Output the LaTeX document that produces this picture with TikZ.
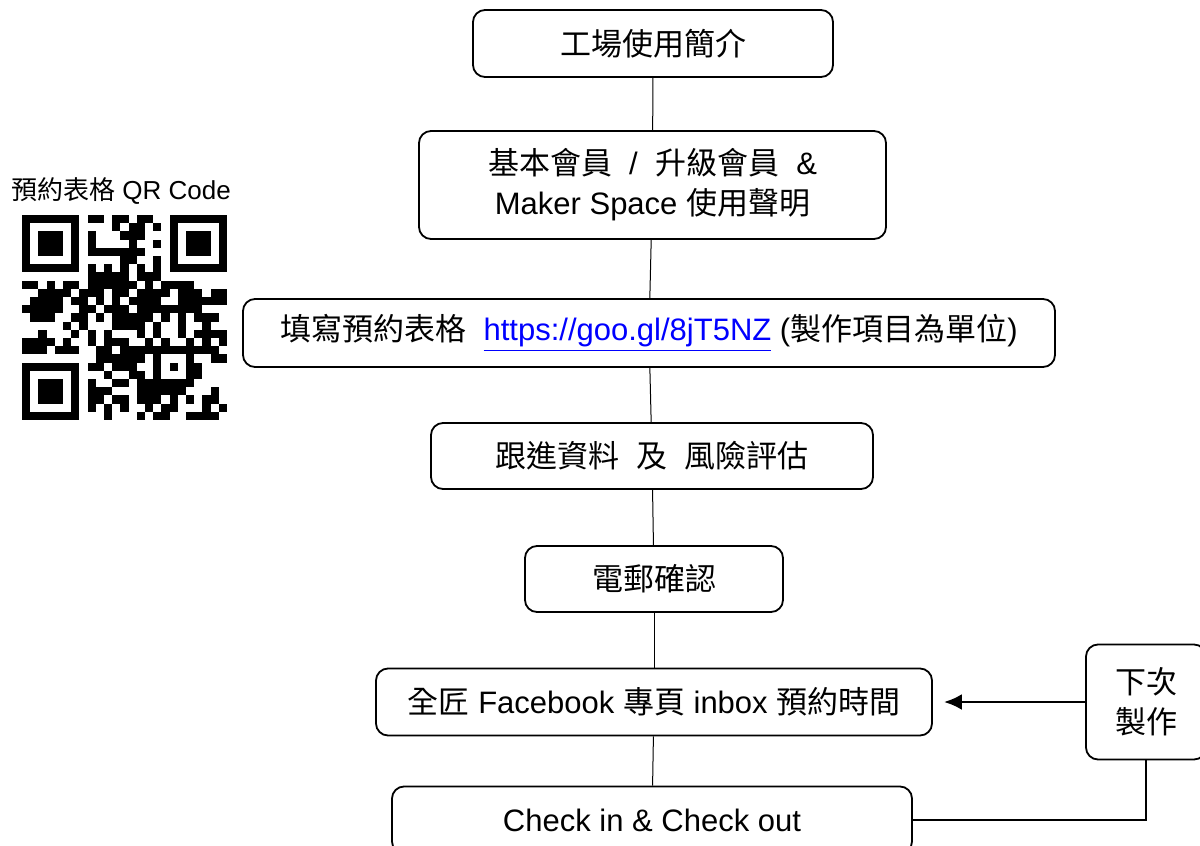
\documentclass[tikz,border=0pt]{standalone}
\usepackage{fontspec}
\usetikzlibrary{arrows.meta}
\setmainfont{Liberation Sans}
\newfontfamily\cjk{Noto Sans CJK TC}
\newcommand{\zh}[1]{{\cjk #1}}
\newcommand{\qrm}{8.2}
\begin{document}
\begin{tikzpicture}[x=0.5pt,y=-0.5pt,>={Latex[length=9pt,width=8pt]},
  box/.style={draw, line width=0.9pt, rounded corners=6pt, fill=white, inner sep=0pt,
    align=center, font=\fontsize{15.5}{20}\selectfont},
  link/.style={line width=0.5pt}]
  \useasboundingbox (0,0) rectangle (1200,846);

  \node[box, minimum width=180pt, minimum height=33.5pt] (intro)    at (653,43.5) {\zh{工場使用簡介}};
  \node[box, minimum width=233.5pt, minimum height=54pt] (member)   at (652.5,185) {\zh{基本會員}\ \ /\ \ \zh{升級會員}\ \ \&\\Maker Space \zh{使用聲明}};
  \node[box, minimum width=406pt, minimum height=34pt]  (form)     at (649,333) {\zh{填寫預約表格}\ \ \textcolor{blue}{\underline{https://goo.gl/8jT5NZ}} (\zh{製作項目為單位})};
  \node[box, minimum width=221pt, minimum height=33pt]  (risk)     at (652,456) {\zh{跟進資料}\ \ \zh{及}\ \ \zh{風險評估}};
  \node[box, minimum width=129pt, minimum height=33pt]  (email)    at (654,579) {\zh{電郵確認}};
  \node[box, minimum width=278pt, minimum height=33.5pt] (facebook) at (654,702) {\zh{全匠} Facebook \zh{專頁} inbox \zh{預約時間}};
  \node[box, minimum width=260pt, minimum height=33.5pt] (check)    at (652,820) {Check in \& Check out};
  \node[box, minimum width=60pt, minimum height=57.5pt] (next)      at (1146,702) {\zh{下次}\\\zh{製作}};

  \draw[link] (intro) -- (member);
  \draw[link] (member) -- (form);
  \draw[link] (form) -- (risk);
  \draw[link] (risk) -- (email);
  \draw[link] (email) -- (facebook);
  \draw[link] (facebook) -- (check);
  \draw[->, line width=1.4pt] (next.west) -- ([xshift=5.5pt]facebook.east);
  \draw[line width=0.75pt] (check.east) -| (next.south);

  % QR code
  \node[font=\fontsize{13}{16}\selectfont] (qrlabel) at (121,191) {\zh{預約表格} QR Code};
  \begin{scope}[shift={(22,215)}]
    \pgfmathsetseed{2718}
    \foreach \i in {0,...,24}{
      \foreach \j in {0,...,24}{
        \pgfmathtruncatemacro\qrfree{((\i<8)&&(\j<8)) || ((\i>16)&&(\j<8)) || ((\i<8)&&(\j>16)) || ((\i>15)&&(\i<21)&&(\j>15)&&(\j<21)) ? 0 : 1}
        \pgfmathtruncatemacro\qron{((\i==6)||(\j==6)) ? (mod(\i+\j,2)==0 ? 1 : 0) : (rnd<0.56 ? 1 : 0)}
        \ifnum\numexpr\qrfree*\qron\relax=1
          \fill (\i*\qrm,\j*\qrm) rectangle ++(\qrm,\qrm);
        \fi
      }
    }
    \foreach \fx/\fy in {0/0,18/0,0/18}{
      \fill (\fx*\qrm,\fy*\qrm) rectangle ++(7*\qrm,7*\qrm);
      \fill[white] (\fx*\qrm+\qrm,\fy*\qrm+\qrm) rectangle ++(5*\qrm,5*\qrm);
      \fill (\fx*\qrm+2*\qrm,\fy*\qrm+2*\qrm) rectangle ++(3*\qrm,3*\qrm);
    }
    \fill (16*\qrm,16*\qrm) rectangle ++(5*\qrm,5*\qrm);
    \fill[white] (17*\qrm,17*\qrm) rectangle ++(3*\qrm,3*\qrm);
    \fill (18*\qrm,18*\qrm) rectangle ++(\qrm,\qrm);
  \end{scope}
\end{tikzpicture}
\end{document}
